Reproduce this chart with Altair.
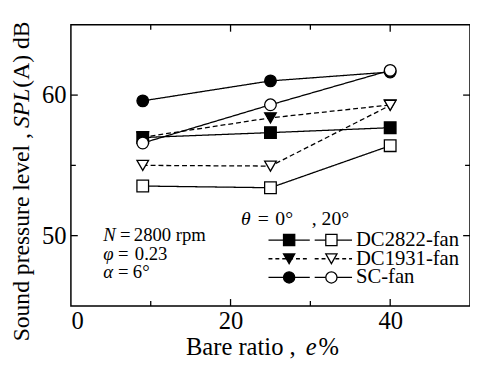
import altair as alt
import pandas as pd

# ---- data ----
x_vals = [9, 25, 40]
dc2822_0 = [56.98, 57.33, 57.68]
dc2822_20 = [53.53, 53.41, 56.40]
dc1931_0 = [57.00, 58.38, 59.30]
dc1931_20 = [55.00, 54.95, 59.27]
sc_0 = [59.59, 61.01, 61.64]
sc_20 = [56.59, 59.31, 61.76]

x_major = [20, 40]
x_minor = [10, 30]
y_major = [50, 60]
y_minor = [55]

FONT = "Liberation Serif"
W, H = 406, 286

series = [
    # name, theta, values, shape, filled, dashed
    ("DC2822-fan", "0", dc2822_0, "square", True, False),
    ("DC1931-fan", "0", dc1931_0, "triangle-down", True, True),
    ("SC-fan", "0", sc_0, "circle", True, False),
    ("DC2822-fan", "20", dc2822_20, "square", False, False),
    ("DC1931-fan", "20", dc1931_20, "triangle-down", False, True),
    ("SC-fan", "20", sc_20, "circle", False, False),
]

xs = alt.Scale(domain=[0, 50], nice=False, zero=False)
ys = alt.Scale(domain=[45, 65], nice=False, zero=False)
one = pd.DataFrame({"a": [0]})

layers = []

axis_df = pd.DataFrame({"x": [0], "y": [45]})
base = alt.Chart(axis_df).mark_point(opacity=0).encode(
    x=alt.X("x:Q", scale=xs, axis=alt.Axis(values=[0, 20, 40], ticks=False, domain=False, grid=False,
                                           labelFont=FONT, labelFontSize=25, labelColor="black",
                                           labelPadding=3, title=None, format="d")),
    y=alt.Y("y:Q", scale=ys, axis=alt.Axis(values=[50, 60], ticks=False, domain=False, grid=False,
                                           labelFont=FONT, labelFontSize=25, labelColor="black",
                                           labelPadding=5, title=None, format="d")),
)
layers.append(base)

for name, th, vals, shape, filled, dashed in series:
    df = pd.DataFrame({"x": x_vals, "y": vals})
    ln = alt.Chart(df).mark_line(color="black", strokeWidth=1.3,
                                 strokeDash=[5, 3] if dashed else [1, 0]).encode(
        x=alt.X("x:Q", scale=xs), y=alt.Y("y:Q", scale=ys))
    layers.append(ln)
for name, th, vals, shape, filled, dashed in series:
    df = pd.DataFrame({"x": x_vals, "y": vals})
    pt = alt.Chart(df).mark_point(shape=shape, size=140, filled=True,
                                  fill="black" if filled else "white", stroke="black",
                                  strokeWidth=1.3, opacity=1).encode(
        x=alt.X("x:Q", scale=xs), y=alt.Y("y:Q", scale=ys))
    layers.append(pt)

def xticks(vals, L):
    d = pd.DataFrame({"x": vals})
    return [
        alt.Chart(d).mark_rule(color="black", strokeWidth=1.3).encode(
            x=alt.X("x:Q", scale=xs), y=alt.value(H), y2=alt.value(H - L)),
        alt.Chart(d).mark_rule(color="black", strokeWidth=1.3).encode(
            x=alt.X("x:Q", scale=xs), y=alt.value(0), y2=alt.value(L)),
    ]

def yticks(vals, L):
    d = pd.DataFrame({"y": vals})
    return [
        alt.Chart(d).mark_rule(color="black", strokeWidth=1.3).encode(
            y=alt.Y("y:Q", scale=ys), x=alt.value(0), x2=alt.value(L)),
        alt.Chart(d).mark_rule(color="black", strokeWidth=1.3).encode(
            y=alt.Y("y:Q", scale=ys), x=alt.value(W), x2=alt.value(W - L)),
    ]

layers += xticks(x_major, 7) + xticks(x_minor, 5) + yticks(y_major, 7) + yticks(y_minor, 5)

def txt(s, x, y, size, italic=False, angle=0, align="left"):
    kw = dict(font=FONT, fontSize=size, color="black", align=align, baseline="middle")
    if italic:
        kw["fontStyle"] = "italic"
    if angle:
        kw["angle"] = angle
    return alt.Chart(one).mark_text(**kw).encode(x=alt.value(x), y=alt.value(y), text=alt.value(s))

# axis titles (mixed italics)
layers += [
    txt("Bare ratio ,", 117, 328, 25),
    txt("e", 239, 328, 25, italic=True),
    txt("%", 252, 328, 25),
    txt("Sound pressure level ,", -50, 322, 24, angle=270),
    txt("SPL", -50, 105, 24, italic=True, angle=270),
    txt("(A) dB", -50, 64, 24, angle=270),
]

# annotations
layers += [
    txt("θ", 173, 198, 20, italic=True),
    txt("=", 190, 198, 20),
    txt("0°", 208, 198, 20),
    txt(", 20°", 245, 198, 20),
    txt("N", 33, 214, 19, italic=True),
    txt("=", 50, 214, 19),
    txt("2800 rpm", 64, 214, 19),
    txt("φ", 33, 233, 19, italic=True),
    txt("=", 48, 233, 19),
    txt("0.23", 65, 233, 19),
    txt("α", 33, 252, 19, italic=True),
    txt("=", 48, 252, 19),
    txt("6°", 63, 252, 19),
]

# legend
leg_rows = [("DC2822-fan", "square", False, 219),
            ("DC1931-fan", "triangle-down", True, 238),
            ("SC-fan", "circle", False, 257)]
for name, shape, dashed, yy in leg_rows:
    dash = [4, 3] if dashed else [1, 0]
    for x1, x2, xm, filled in [(201, 243, 222, True), (248, 286, 265, False)]:
        layers.append(alt.Chart(one).mark_rule(color="black", strokeWidth=1.3, strokeDash=dash).encode(
            x=alt.value(x1), x2=alt.value(x2), y=alt.value(yy)))
        layers.append(alt.Chart(one).mark_point(shape=shape, size=130, filled=True,
                                                fill="black" if filled else "white", stroke="black",
                                                strokeWidth=1.3, opacity=1).encode(
            x=alt.value(xm), y=alt.value(yy)))
    layers.append(txt(name, 290, yy, 21))

chart = alt.layer(*layers).properties(
    width=W, height=H,
    autosize=alt.AutoSizeParams(type="none"),
    padding={"left": 64, "top": 14, "right": 0, "bottom": 58},
    background="white",
).configure_view(stroke="black", strokeWidth=1.5)

chart.save("out.html", embed_options={"renderer": "svg", "actions": False})
